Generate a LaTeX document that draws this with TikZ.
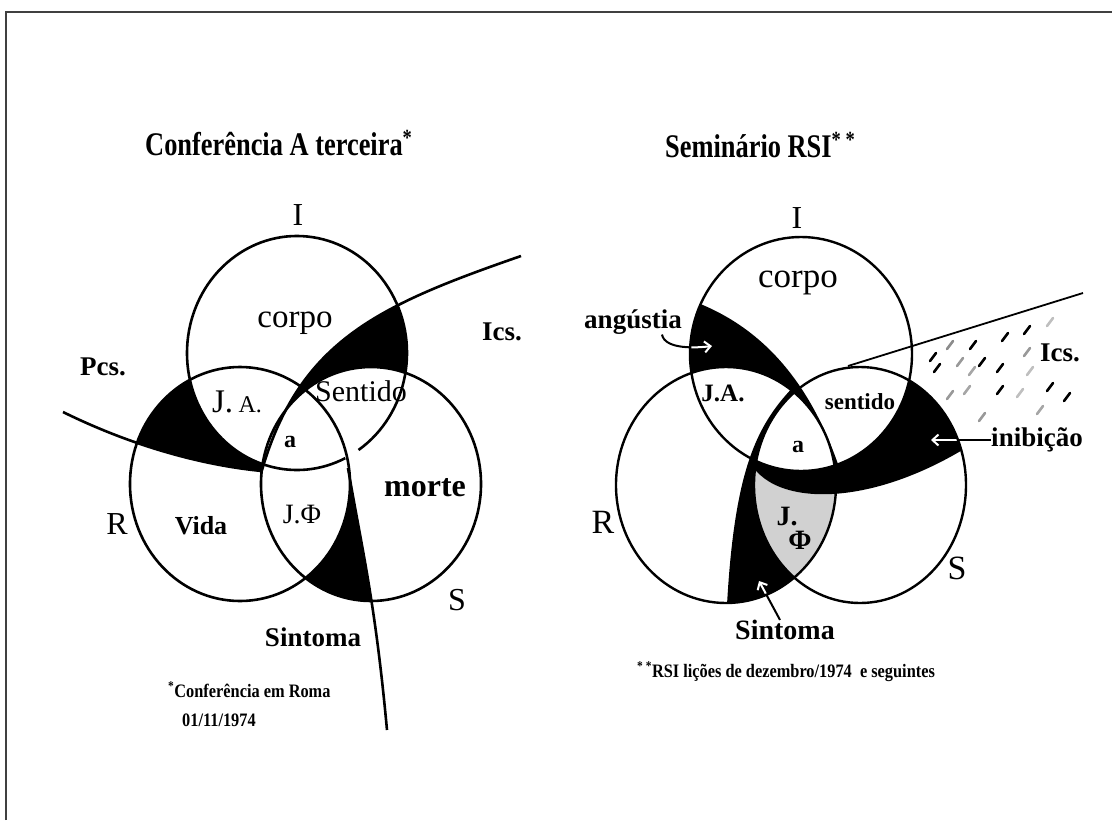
\documentclass[tikz,border=0pt]{standalone}
\usepackage{fontspec}
\setmainfont{Liberation Serif}
\newfontfamily\estreita[FakeStretch=0.86]{Liberation Serif}
\newfontfamily\titfonte[FakeStretch=0.8]{Liberation Serif}
\usepackage{tikz}
\usetikzlibrary{arrows.meta}
\tikzset{
  anel/.style={line width=2.6pt},
  traco/.style={line width=2.6pt, line cap=round},
  seta/.style={line width=2pt, -{Straight Barb[length=6pt, width=11pt]}},
  setab/.style={seta, white},
  titulo/.style={font=\titfonte\fontsize{33}{33}\selectfont\bfseries, anchor=base west, inner sep=0pt},
  nota/.style={font=\estreita\fontsize{19}{19}\selectfont\bfseries, anchor=base west, inner sep=0pt},
  letra/.style={font=\fontsize{32}{32}\selectfont, inner sep=0pt},
  rotulo/.style={font=\fontsize{27}{27}\selectfont\bfseries, inner sep=0pt},
  rotulofino/.style={font=\fontsize{33}{33}\selectfont, inner sep=0pt}
}

\begin{document}
\begin{tikzpicture}[x=1pt, y=-1pt]
  \useasboundingbox (0,0) rectangle (1112,820);
  % moldura
  \draw[line width=2pt, black!75] (6,820) -- (6,12) -- (1112,12);

  % ---------- Conferencia A terceira ----------
  % faixa superior (I fora de S)
  \begin{scope}
    \clip (297,353) ellipse [x radius=110pt, y radius=117pt];
    \clip (521,256) .. controls (380,305) and (300,340) .. (262,470) -- (262,620) -- (620,620) -- (620,256) -- cycle;
    \fill[even odd rule] (150,200) rectangle (620,620) (371,484) ellipse [x radius=110pt, y radius=117pt];
  \end{scope}
  % faixa esquerda (R fora de I)
  \begin{scope}
    \clip (240,484) ellipse [x radius=110pt, y radius=117pt];
    \clip (63,412) .. controls (130,445) and (200,465) .. (262,471) -- (262,300) -- (40,300) -- cycle;
    \fill[even odd rule] (40,200) rectangle (620,620) (297,353) ellipse [x radius=110pt, y radius=117pt];
  \end{scope}
  % faixa de baixo (S fora de R)
  \begin{scope}
    \clip (371,484) ellipse [x radius=110pt, y radius=117pt];
    \clip (348,468) .. controls (362,550) and (375,600) .. (387,730) -- (200,730) -- (200,468) -- cycle;
    \fill[even odd rule] (150,300) rectangle (620,760) (240,484) ellipse [x radius=110pt, y radius=117pt];
  \end{scope}

  \draw[anel] ([shift={(-56:110pt and 117pt)}]297,353) arc [start angle=-56, end angle=296, x radius=110pt, y radius=117pt];
  \draw[anel] (240,484) ellipse [x radius=110pt, y radius=117pt];
  \draw[anel] (371,484) ellipse [x radius=110pt, y radius=117pt];
  \draw[anel] (63,412) .. controls (130,445) and (200,465) .. (262,471);
  \draw[anel] (521,256) .. controls (380,305) and (300,340) .. (262,470);
  \draw[anel] (348,468) .. controls (362,550) and (375,600) .. (387,730);

  \node (titA) [titulo] at (145,155) {Conferência A terceira\textsuperscript{*}};
  \node (iA) [letra] at (298,215) {I};
  \node (rA) [letra] at (117,524) {R};
  \node (sA) [letra] at (457,600) {S};
  \node (corpoA) [rotulofino] at (295,323) {corpo};
  \node (icsA) [rotulo] at (502,332) {Ics.};
  \node (pcsA) [rotulo] at (103,367) {Pcs.};
  \node (jaA) [rotulofino] at (237,402) {J.\,{\fontsize{24}{24}\selectfont A.}};
  \node (sentidoA) [rotulofino, font=\fontsize{30}{30}\selectfont] at (361,391) {Sentido};
  \node (aA) [rotulo, font=\fontsize{24}{24}\selectfont\bfseries] at (290,442) {a};
  \node (morte) [rotulo, font=\fontsize{32}{32}\selectfont\bfseries] at (425,488) {morte};
  \node (jfA) [rotulofino, font=\fontsize{28}{28}\selectfont] at (302,515) {J.Φ};
  \node (vida) [rotulo, font=\fontsize{26}{26}\selectfont\bfseries] at (201,526) {Vida};
  \node (sintomaA) [rotulo] at (313,637) {Sintoma};
  \node (notaA) [nota] at (168,697) {\textsuperscript{*}Conferência em Roma};
  \node (dataA) [nota] at (182,726) {01/11/1974};

  % ---------- Seminario RSI ----------
  % J.Phi (cinza)
  \begin{scope}
    \clip (726,485) ellipse [x radius=110pt, y radius=118pt];
    \clip (860,485) ellipse [x radius=106pt, y radius=118pt];
    \clip (748,458) .. controls (770,510) and (880,510) .. (990,432) -- (990,650) -- (748,650) -- cycle;
    \fill[black!18] (600,300) rectangle (1000,660);
  \end{scope}

  \node (titB) [titulo] at (665,157) {Seminário RSI\textsuperscript{* *}};
  \node (iB) [letra] at (797,218) {I};
  \node (rB) [letra, font=\fontsize{34}{34}\selectfont] at (603,522) {R};
  \node (sB) [letra, font=\fontsize{34}{34}\selectfont] at (957,568) {S};
  \node (corpoB) [rotulofino, font=\fontsize{35}{35}\selectfont] at (798,283) {corpo};
  \node (angustia) [rotulo] at (633,322) {angústia};
  \node (jaB) [rotulo, font=\fontsize{25}{25}\selectfont\bfseries] at (723,393) {J.A.};
  \node (sentidoB) [rotulo, font=\fontsize{23}{23}\selectfont\bfseries] at (860,402) {sentido};
  \node (aB) [rotulo, font=\fontsize{24}{24}\selectfont\bfseries] at (798,447) {a};
  \node (inibicao) [rotulo] at (1037,440) {inibição};
  \node (icsB) [rotulo] at (1060,353) {Ics.};
  \node (jB) [rotulo, font=\fontsize{28}{28}\selectfont\bfseries] at (787,517) {J.};
  \node (phiB) [rotulo, font=\fontsize{28}{28}\selectfont\bfseries] at (800,540) {Φ};
  \node (sintomaB) [rotulo, font=\fontsize{28}{28}\selectfont\bfseries] at (785,630) {Sintoma};
  \node (notaB) [nota] at (637,677) {\textsuperscript{* *}RSI lições de dezembro/1974 \ e seguintes};

  \coordinate (angponta) at (712,346);
  \coordinate (iniponta) at (931,440);
  \coordinate (sinponta) at (759,581);
  \draw[seta] ([xshift=-20pt]angustia.south east) .. controls +(3,15) and +(-16,2) .. (angponta);
  \draw[seta] (inibicao.west) -- (iniponta);
  \draw[seta] ([xshift=-5pt]sintomaB.north) -- (sinponta);

  % angustia (I fora de R)
  \begin{scope}
    \clip (801,354) ellipse [x radius=111pt, y radius=117pt];
    \clip (690,300) .. controls (760,325) and (810,380) .. (840,470) -- (840,560) -- (600,560) -- (600,300) -- cycle;
    \fill[even odd rule] (600,200) rectangle (1000,620) (726,485) ellipse [x radius=110pt, y radius=118pt];
    \draw[setab] ([xshift=-20pt]angustia.south east) .. controls +(3,15) and +(-16,2) .. (angponta);
  \end{scope}
  % inibicao (S fora de I)
  \begin{scope}
    \clip (860,485) ellipse [x radius=106pt, y radius=118pt];
    \clip (748,458) .. controls (770,510) and (880,510) .. (990,432) -- (990,300) -- (748,300) -- cycle;
    \fill[even odd rule] (600,200) rectangle (1000,620) (801,354) ellipse [x radius=111pt, y radius=117pt];
    \draw[setab] (inibicao.west) -- (iniponta);
  \end{scope}
  % sintoma (R fora de S)
  \begin{scope}
    \clip (726,485) ellipse [x radius=110pt, y radius=118pt];
    \clip (800,380) .. controls (760,420) and (735,460) .. (727,605) -- (727,640) -- (900,640) -- (900,380) -- cycle;
    \fill[even odd rule] (600,300) rectangle (1000,660) (860,485) ellipse [x radius=106pt, y radius=118pt];
    \draw[setab] ([xshift=-5pt]sintomaB.north) -- (sinponta);
  \end{scope}

  \draw[anel, line width=2.4pt] (801,354) ellipse [x radius=111pt, y radius=117pt];
  \draw[anel, line width=2.4pt] (726,485) ellipse [x radius=110pt, y radius=118pt];
  \draw[anel, line width=2.4pt] (860,485) ellipse [x radius=106pt, y radius=118pt];
  \draw[line width=1.8pt] (848,366) -- (1083,293);

  % tracos do Ics.
  \foreach \x/\y/\c in {933/357/black, 937/368/black, 950/345/black!45, 960/362/black!40,
      973/345/black, 982/362/black, 972/371/black!35, 1000/368/black, 1005/337/black,
      1027/330/black, 1027/352/black!40, 1050/322/black!25, 1030/371/black!25,
      1000/390/black, 950/395/black!40, 967/390/black!35, 1050/387/black, 1067/397/black,
      982/417/black!40, 1040/410/black!35, 1020/393/black!25}
    \draw[traco, \c] (\x-3,\y+4) -- (\x+3,\y-4);
\end{tikzpicture}
\end{document}
